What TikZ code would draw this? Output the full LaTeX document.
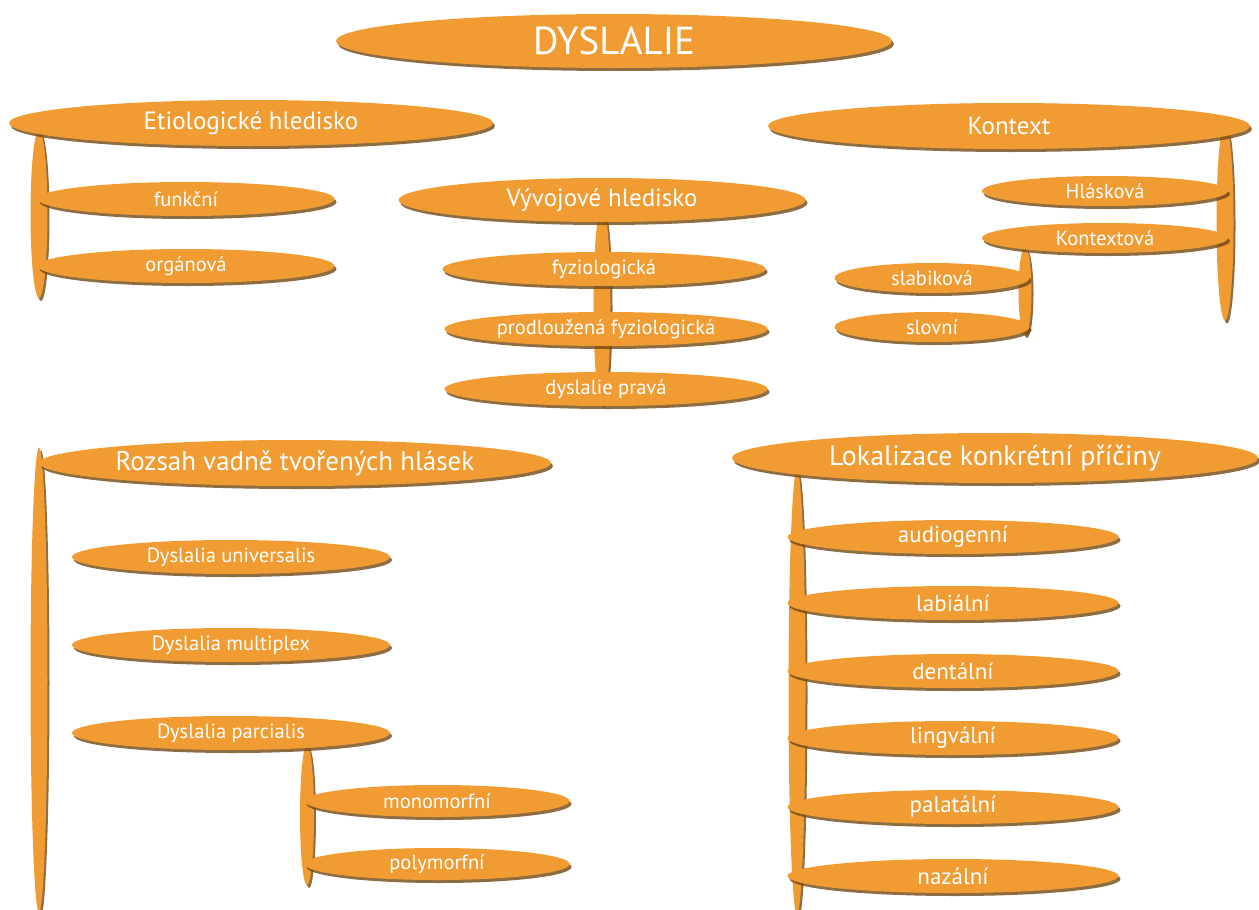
\documentclass[tikz,border=0pt]{standalone}
\usepackage{fontspec}
\setmainfont{PT Sans}
\usetikzlibrary{shapes.geometric,shadows}

\definecolor{dysorange}{RGB}{240,156,51}
\definecolor{dysshadow}{RGB}{115,72,20}

\tikzset{
  blob/.style={ellipse, fill=dysorange, text=white, inner sep=0pt,
    drop shadow={shadow xshift=2pt, shadow yshift=-3pt, fill=dysshadow, opacity=0.8}},
  spine/.style={blob, minimum width=17pt},
  toptitle/.style={blob, minimum width=556pt, minimum height=54pt, font=\fontsize{39}{43}\selectfont},
  head/.style={blob, minimum height=46pt, font=\fontsize{25}{29}\selectfont},
  item/.style={blob, minimum height=34pt, font=\fontsize{20.5}{24}\selectfont},
  bigitem/.style={item, minimum width=331pt, font=\fontsize{23}{26}\selectfont}
}

\begin{document}
\begin{tikzpicture}[x=1pt, y=-1pt]
\useasboundingbox (0,0) rectangle (1259,910);

% bars behind the ellipses
\node[spine, minimum height=168pt] (etiobar) at (39,214) {};
\node[spine, minimum height=197pt] (kontbar) at (1225,222) {};
\node[spine, minimum height=88pt, minimum width=13pt] (kontxbar) at (1025,291) {};
\node[spine, minimum height=200pt] (vyvbar) at (602,305) {};
\node[spine, minimum height=465pt] (rozbar) at (39,680) {};
\node[spine, minimum height=140pt, minimum width=14pt] (parbar) at (307,815) {};
\node[spine, minimum height=445pt] (lokbar) at (797,692) {};

% top
\node[toptitle] (dys) at (614,41) {DYSLALIE};

% Etiologicke hledisko
\node[head, minimum width=484pt] (etio) at (251,123) {Etiologické hledisko};
\node[item, minimum width=297pt] (funk) at (186,199) {funkční};
\node[item, minimum width=297pt] (org) at (186,266) {orgánová};

% Kontext
\node[head, minimum width=482pt] (kont) at (1009,126) {Kontext};
\node[item, minimum width=246pt, minimum height=30pt] (hlas) at (1105,191) {Hlásková};
\node[item, minimum width=246pt, minimum height=30pt] (kontx) at (1105,238) {Kontextová};
\node[item, minimum width=195pt, minimum height=30pt] (slab) at (932,278) {slabiková};
\node[item, minimum width=195pt, minimum height=30pt] (slov) at (932,327) {slovní};

% Vyvojove hledisko
\node[head, minimum width=407pt, minimum height=44pt] (vyv) at (602,200) {Vývojové hledisko};
\node[item, minimum width=323pt] (fyz) at (604,269) {fyziologická};
\node[item, minimum width=323pt] (prod) at (606,329) {prodloužená fyziologická};
\node[item, minimum width=323pt] (prava) at (606,389) {dyslalie pravá};

% Rozsah vadne tvorenych hlasek
\node[head, minimum width=512pt, font=\fontsize{27}{31}\selectfont] (roz) at (295,463) {Rozsah vadně tvořených hlásek};
\node[item, minimum width=318pt] (univ) at (231,557) {Dyslalia universalis};
\node[item, minimum width=318pt] (mult) at (231,645) {Dyslalia multiplex};
\node[item, minimum width=318pt] (parc) at (231,733) {Dyslalia parcialis};
\node[item, minimum width=265pt, minimum height=32pt] (mono) at (437,801) {monomorfní};
\node[item, minimum width=265pt, minimum height=32pt] (poly) at (437,864) {polymorfní};

% Lokalizace konkretni priciny
\node[head, minimum width=526pt, minimum height=50pt, font=\fontsize{28}{32}\selectfont] (lok) at (995,458) {Lokalizace konkrétní příčiny};
\node[bigitem] (audio) at (953,537) {audiogenní};
\node[bigitem] (labi) at (953,603) {labiální};
\node[bigitem] (dent) at (953,671) {dentální};
\node[bigitem] (ling) at (953,738) {lingvální};
\node[bigitem] (pala) at (953,807) {palatální};
\node[bigitem] (naza) at (953,876) {nazální};
\end{tikzpicture}
\end{document}
